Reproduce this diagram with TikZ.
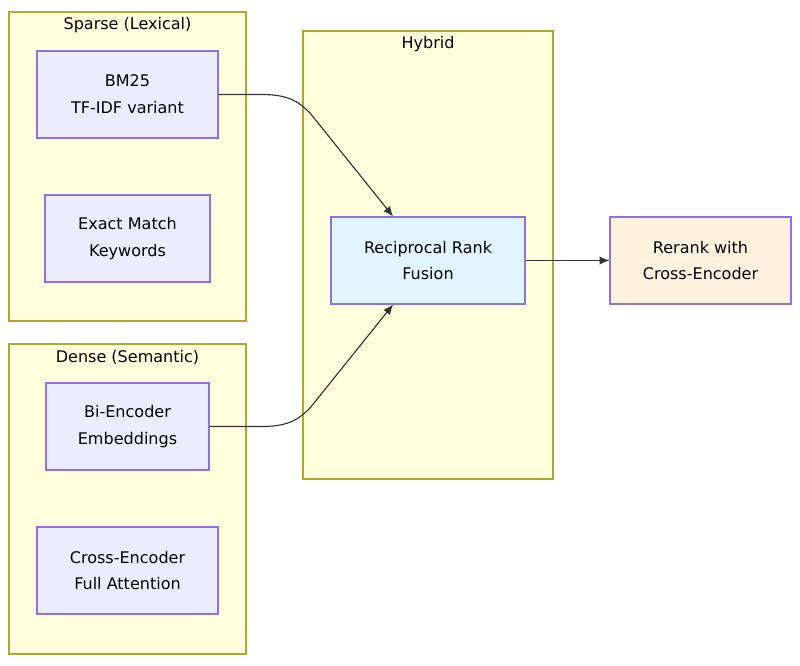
\documentclass[tikz,border=0pt]{standalone}
\usepackage{fontspec}
\setmainfont{DejaVu Sans}
\usetikzlibrary{arrows.meta}
\definecolor{clusterfill}{HTML}{FFFFDE}
\definecolor{clusterline}{HTML}{AAAA33}
\definecolor{boxfill}{HTML}{ECECFF}
\definecolor{boxline}{HTML}{9370DB}
\definecolor{fusefill}{HTML}{E1F5FE}
\definecolor{rerankfill}{HTML}{FFF3E0}
\definecolor{edgecol}{HTML}{333333}
\begin{document}
\begin{tikzpicture}[x=0.025cm, y=-0.025cm, >={Latex[length=7pt,width=6pt]},
	cluster/.style={draw=clusterline, fill=clusterfill, line width=0.9pt},
	ctitle/.style={font=\fontsize{11.4}{19}\selectfont},
	box/.style={draw=boxline, fill=boxfill, line width=0.9pt, align=center,
		inner sep=0pt, minimum height=2.175cm, font=\fontsize{11.4}{19}\selectfont},
	edge/.style={->, draw=edgecol, line width=0.8pt}]
	\useasboundingbox (0,0) rectangle (800,665);
	% subgraphs
	\draw[cluster] (9,12) rectangle (246,321);
	\node[ctitle] (sparse) at (127.5,25) {Sparse (Lexical)};
	\draw[cluster] (9,344) rectangle (246,654);
	\node[ctitle] (dense) at (127.5,357) {Dense (Semantic)};
	\draw[cluster] (303,31) rectangle (553,479);
	\node[ctitle] (hybrid) at (428,44) {Hybrid};
	% nodes
	\node[box, minimum width=4.525cm] (bm) at (127.5,94.5) {BM25\\TF-IDF variant};
	\node[box, minimum width=4.125cm] (exact) at (127.5,238.5) {Exact Match\\Keywords};
	\node[box, minimum width=4.075cm] (bi) at (127.5,426.5) {Bi-Encoder\\Embeddings};
	\node[box, minimum width=4.525cm] (cross) at (127.5,570.5) {Cross-Encoder\\Full Attention};
	\node[box, minimum width=4.85cm, fill=fusefill] (rrf) at (428,260.5) {Reciprocal Rank\\Fusion};
	\node[box, minimum width=4.525cm, fill=rerankfill] (rerank) at (700.5,260.5) {Rerank with\\Cross-Encoder};
	% edges
	\draw[edge] (bm.east) -- (262,94.5) .. controls (290,94.5) and (300,103) .. (310,113)
		-- ([xshift=-0.875cm]rrf.north);
	\draw[edge] (bi.east) -- (262,426.5) .. controls (290,426.5) and (300,418) .. (310,408)
		-- ([xshift=-0.875cm]rrf.south);
	\draw[edge] (rrf) -- (rerank);
\end{tikzpicture}
\end{document}
